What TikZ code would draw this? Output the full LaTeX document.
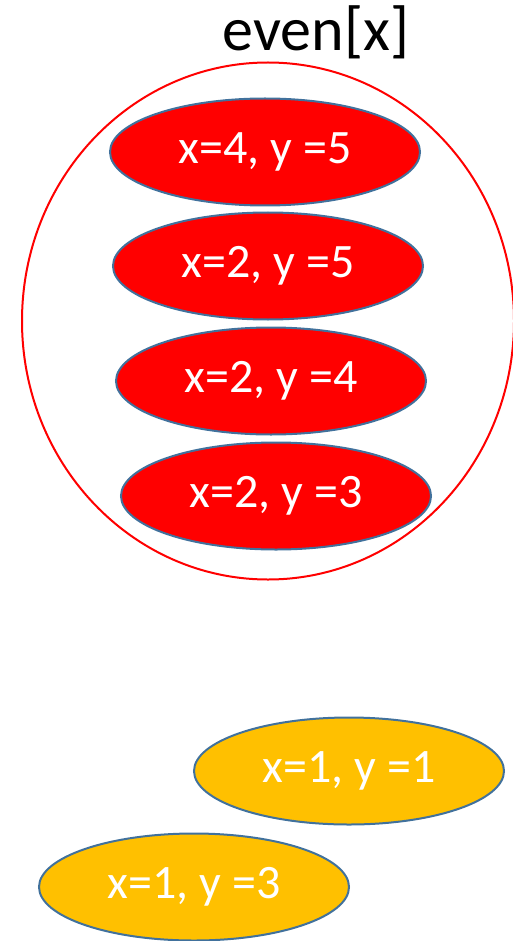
\documentclass[tikz,border=0pt]{standalone}
\usepackage{fontspec}
\setmainfont{Carlito}
\usetikzlibrary{shapes.geometric}
\definecolor{edgeblue}{HTML}{41719C}
\definecolor{ptred}{HTML}{FF0000}
\definecolor{ptyellow}{HTML}{FFC000}
\tikzset{
  blob/.style={ellipse, draw=edgeblue, line width=2pt, inner sep=0pt,
    minimum width=310pt, minimum height=107pt, text=white,
    font=\fontsize{48}{48}\selectfont},
  redblob/.style={blob, fill=ptred},
  yellowblob/.style={blob, fill=ptyellow},
  setline/.style={draw=ptred, line width=2pt}
}
\begin{document}
\begin{tikzpicture}[x=1pt,y=-1pt]
\useasboundingbox (0,0) rectangle (513,941);
\clip (0,0) rectangle (513,941);
\node[ellipse, setline, minimum width=492pt, minimum height=517pt, inner sep=0pt] (set) at (268,321) {};
\node[font=\fontsize{62}{62}\selectfont, anchor=base] (title) at (316,51) {even[x]};
\node[redblob] (a) at (265,152) {x=4, y =5};
\node[redblob] (b) at (268,266) {x=2, y =5};
\node[redblob] (c) at (271,381) {x=2, y =4};
\node[redblob] (d) at (276,496) {x=2, y =3};
\node[yellowblob] (e) at (349,771) {x=1, y =1};
\node[yellowblob] (f) at (194,887) {x=1, y =3};
\end{tikzpicture}
\end{document}
